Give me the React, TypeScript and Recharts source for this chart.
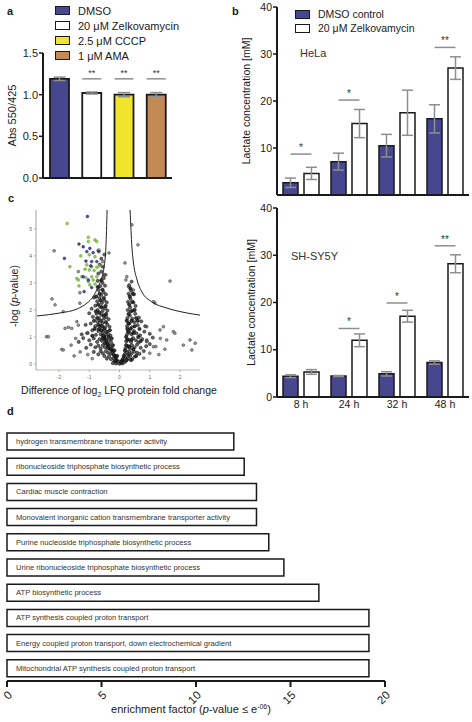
import React from "react";
import {
  BarChart,
  Bar,
  XAxis,
  YAxis,
  ErrorBar,
  Cell,
  LabelList,
  Legend,
  ScatterChart,
  Scatter,
} from "recharts";

const FONT = '"Liberation Sans", Arial, Helvetica, sans-serif';
const NAVY = "#47478f";
const INK = "#1a1a1a";
const GREY_ERR = "#8e8e8e";

// a: Abs 550/425
const treatments = ["DMSO", "20 μM Zelkovamycin", "2.5 μM CCCP", "1 μM AMA"];
const treatmentColors = [NAVY, "#ffffff", "#f0e52b", "#c48a55"];
const absValues = [1.19, 1.02, 1.0, 1.0];
const absErrors = [0.02, 0.012, 0.025, 0.025];
const absSig = ["", "**", "**", "**"];
const absSigLevel = [0, 1.19, 1.19, 1.19];

// b: lactate concentration [mM]
const timepoints = ["8 h", "24 h", "32 h", "48 h"];
const helaDmso = [2.6, 7.1, 10.5, 16.2];
const helaDmsoErr = [1.0, 1.8, 2.4, 3.0];
const helaZelk = [4.6, 15.2, 17.5, 27.0];
const helaZelkErr = [1.3, 3.0, 4.8, 2.4];
const helaSig = ["*", "*", "", "**"];
const helaSigLevel = [8.7, 20.2, 0, 31.4];
const shDmso = [4.4, 4.45, 4.9, 7.3];
const shDmsoErr = [0.3, 0.1, 0.45, 0.35];
const shZelk = [5.3, 12.0, 17.1, 28.2];
const shZelkErr = [0.5, 1.35, 1.25, 1.9];
const shSig = ["", "*", "*", "**"];
const shSigLevel = [0, 14.5, 19.9, 32.0];

// c: volcano plot (log2 fold change, -log p)
const leftCurve: [number, number][] = [
  [-2.73, 1.78], [-1.97, 1.89], [-1.4, 2.04], [-1.07, 2.26], [-0.88, 2.48],
  [-0.71, 2.85], [-0.58, 3.22], [-0.51, 3.59], [-0.45, 4.33], [-0.41, 5.7],
];
const rightCurve: [number, number][] = [
  [0.35, 5.7], [0.41, 4.33], [0.45, 3.85], [0.58, 3.11], [0.74, 2.67],
  [1.07, 2.3], [1.57, 2.07], [2.23, 1.89], [2.66, 1.81],
];
const greenPoints: [number, number][] = [
  [-1.73, 5.2], [-1.03, 4.69], [-0.81, 4.59], [-0.75, 4.53], [-1.03, 4.53],
  [-0.68, 4.22], [-1.28, 4.0], [-1.0, 4.04], [-0.81, 3.97], [-1.64, 3.6],
  [-1.08, 3.67], [-0.92, 3.6], [-0.75, 3.58], [-0.67, 3.63], [-1.14, 3.51],
  [-1.0, 3.48], [-0.84, 3.46], [-1.41, 3.17], [-1.25, 3.23], [-1.11, 3.2],
  [-0.92, 3.23], [-0.75, 3.23], [-1.36, 3.11], [-1.03, 3.05], [-0.87, 3.11],
  [-1.34, 2.89], [-0.98, 2.93], [-0.81, 2.96],
];
const bluePoints: [number, number][] = [
  [-1.06, 5.46], [-1.34, 4.44], [-1.2, 4.34], [-0.98, 4.28], [-1.82, 3.91],
  [-1.08, 4.16], [-0.87, 4.12], [-0.68, 4.16], [-1.11, 3.81], [-0.92, 3.79],
  [-0.75, 3.79], [-0.95, 3.63], [-1.2, 3.23], [-1.03, 3.11], [-0.92, 2.83],
  [-1.17, 2.68],
];
const outlierPoints: [number, number][] = [
  [-2.16, 4.19], [-2.23, 2.41], [0.18, 3.74], [0.41, 5.15], [0.61, 4.41],
  [1.67, 3.07], [-0.35, 4.11], [1.17, 2.26], [-1.36, 3.42], [-1.31, 2.64],
  [-0.55, 3.79], [-0.45, 3.3], [0.24, 3.23], [0.21, 3.11], [0.29, 2.86],
  [0.46, 2.74], [-2.13, 2.19], [-1.86, 1.94], [-1.31, 2.25], [-1.8, 1.32],
  [-1.58, 1.32], [-2.41, 1.01], [-1.91, 0.54], [1.12, 2.31], [1.78, 1.2],
  [1.45, 1.38], [0.9, 1.38], [2.33, 0.89], [2.39, 0.52], [-1.41, 1.57],
  [-2.35, 1.01], [-1.86, 0.52], [-1.69, 1.36], [1.83, 1.14], [2.5, 0.77],
  [2.11, 0.7], [1.56, 0.89], [-1.36, 1.44], [-1.08, 1.14], [1.34, 1.26],
  [1.12, 0.64], [0.9, 0.89], [-1.5, 0.3], [-1.3, 0.45], [-1.6, 0.7],
  [1.3, 0.35], [1.5, 0.55], [1.2, 0.65], [-1.45, 0.95], [1.35, 0.95],
  [-0.9, 0.2], [0.8, 0.22], [-1.05, 0.35], [1.0, 0.4],
];
const cloudPoints: [number, number][] = [
  [-0.12, 0.02], [-0.06, 0.05], [0, 0.01], [0.05, 0.04], [0.1, 0.02],
  [-0.18, 0.08], [0.15, 0.07], [-0.03, 0.1], [0.08, 0.12], [-0.22, 0.03],
  [0.2, 0.1], [-0.28, 0.18], [-0.2, 0.22], [-0.12, 0.25], [-0.35, 0.28],
  [0.12, 0.2], [0.2, 0.26], [0.28, 0.22], [0.35, 0.3], [-0.42, 0.2],
  [0.42, 0.18], [-0.5, 0.3], [0.5, 0.27], [-0.3, 0.38], [-0.38, 0.42],
  [-0.45, 0.48], [-0.22, 0.45], [-0.55, 0.4], [-0.62, 0.47], [0.18, 0.38],
  [0.25, 0.44], [0.32, 0.48], [0.4, 0.4], [0.48, 0.46], [0.58, 0.42],
  [-0.7, 0.36], [0.66, 0.38], [-0.85, 0.45], [0.8, 0.48], [-0.25, 0.6],
  [-0.33, 0.58], [-0.4, 0.66], [-0.48, 0.62], [-0.55, 0.7], [-0.62, 0.58],
  [-0.7, 0.68], [0.2, 0.58], [0.27, 0.66], [0.34, 0.6], [0.41, 0.7],
  [0.5, 0.62], [0.58, 0.72], [-0.8, 0.62], [0.7, 0.6], [-0.95, 0.72],
  [0.88, 0.66], [-1.1, 0.6], [1.0, 0.74], [-0.28, 0.82], [-0.36, 0.88],
  [-0.44, 0.8], [-0.5, 0.94], [-0.58, 0.86], [-0.66, 0.92], [-0.74, 0.82],
  [0.22, 0.84], [0.3, 0.9], [0.38, 0.82], [0.45, 0.96], [0.54, 0.88],
  [0.63, 0.8], [-0.85, 0.95], [0.75, 0.92], [-1.0, 0.88], [0.9, 0.84],
  [-1.2, 0.96], [1.1, 0.98], [-1.35, 0.82], [-0.3, 1.06], [-0.38, 1.12],
  [-0.46, 1.08], [-0.54, 1.18], [-0.62, 1.1], [-0.7, 1.22], [-0.78, 1.08],
  [0.24, 1.08], [0.32, 1.16], [0.4, 1.1], [0.48, 1.22], [0.56, 1.14],
  [-0.9, 1.25], [0.68, 1.06], [-1.05, 1.15], [0.82, 1.2], [-1.25, 1.1],
  [1.0, 1.12], [-0.33, 1.38], [-0.4, 1.46], [-0.48, 1.36], [-0.56, 1.52],
  [-0.64, 1.42], [-0.72, 1.56], [-0.8, 1.4], [0.25, 1.4], [0.33, 1.5],
  [0.41, 1.36], [0.49, 1.55], [0.6, 1.44], [-0.95, 1.5], [0.72, 1.58],
  [-1.12, 1.45], [0.85, 1.4], [-0.36, 1.66], [-0.44, 1.74], [-0.52, 1.68],
  [-0.6, 1.82], [-0.68, 1.7], [-0.76, 1.86], [0.26, 1.7], [0.34, 1.8],
  [0.42, 1.68], [0.52, 1.86], [-0.88, 1.75], [0.64, 1.72], [-1.0, 1.88],
  [-0.4, 1.98], [-0.48, 2.06], [-0.56, 1.96], [-0.64, 2.12], [-0.72, 2.0],
  [-0.8, 2.16], [0.27, 2.0], [0.35, 2.1], [0.44, 1.98], [0.53, 2.15],
  [-0.92, 2.05], [-0.42, 2.28], [-0.5, 2.36], [-0.58, 2.26], [-0.66, 2.44],
  [-0.74, 2.32], [0.28, 2.3], [0.36, 2.42], [0.46, 2.28], [-0.84, 2.46],
  [-0.45, 2.58], [-0.53, 2.66], [-0.61, 2.56], [-0.69, 2.74], [0.3, 2.6],
  [0.38, 2.72], [0.48, 2.58], [-0.48, 2.9], [-0.56, 3.0], [-0.64, 2.88],
  [-0.72, 3.08], [0.32, 2.92], [0.4, 3.05], [-0.52, 3.18], [-0.5, 3.3],
  [-0.6, 3.42], [-0.7, 3.35], [-0.55, 3.6], [-0.65, 3.68], [-0.6, 3.9],
  [-0.5, 4.05], [-0.7, 4.2],
];
const corePoints: [number, number][] = [
  [-0.1, 0.15], [-0.15, 0.3], [-0.2, 0.35], [-0.25, 0.5], [-0.3, 0.55],
  [-0.35, 0.7], [-0.4, 0.75], [-0.45, 0.9], [-0.5, 1.0], [-0.55, 1.05],
  [-0.6, 1.25], [-0.42, 1.2], [-0.36, 1.0], [-0.5, 1.3], [-0.58, 1.4],
  [-0.62, 1.6], [-0.45, 1.55], [-0.52, 1.8], [-0.66, 1.9], [-0.58, 2.1],
  [-0.46, 2.15], [-0.52, 2.45], [-0.62, 2.35], [-0.56, 2.75], [-0.66, 2.6],
  [-0.6, 3.1], [-0.44, 1.85], [-0.32, 1.25], [-0.26, 0.95], [-0.22, 0.7],
  [-0.17, 0.5], [-0.08, 0.3], [-0.14, 0.12], [-0.38, 0.6], [-0.48, 0.78],
  [-0.55, 0.95], [-0.68, 1.3], [-0.7, 1.45], [-0.74, 1.7], [-0.7, 2.2],
  [-0.77, 2.5], [-0.72, 2.85], [-0.78, 1.95], [-0.84, 1.6], [-0.82, 1.3],
  [-0.9, 1.05], [0.1, 0.15], [0.14, 0.3], [0.18, 0.5], [0.22, 0.7],
  [0.26, 0.9], [0.28, 1.2], [0.3, 1.5], [0.3, 1.85], [0.32, 2.2],
  [0.34, 2.5], [0.36, 2.8], [0.22, 1.0], [0.26, 1.3], [0.24, 1.6],
  [0.36, 1.3], [0.4, 1.6], [0.38, 1.95], [0.42, 2.3], [0.44, 2.6],
  [0.32, 0.65], [0.4, 0.9], [0.46, 1.15], [0.5, 1.4], [0.55, 1.7],
  [0.5, 2.0], [0.3, 0.35], [0.06, 0.08], [0.24, 0.15], [0.45, 0.55],
  [0.62, 1.0], [0.66, 1.3], [0.6, 1.6], [0.7, 0.85], [0.55, 0.3],
  [0.38, 0.15],
];

// d: GO enrichment
const goTerms = [
  "hydrogen transmembrane transporter activity",
  "ribonucleoside triphosphate biosynthetic process",
  "Cardiac muscle contraction",
  "Monovalent inorganic cation transmembrane transporter activity",
  "Purine nucleoside triphosphate biosynthetic process",
  "Urine ribonucleoside triphosphate biosynthetic process",
  "ATP biosynthetic process",
  "ATP synthesis coupled proton transport",
  "Energy coupled proton transport, down electrochemical gradient",
  "Mitochondrial ATP synthesis coupled proton transport",
];
const enrichment = [12.0, 12.55, 13.2, 13.2, 13.85, 14.65, 16.5, 19.15, 19.15, 19.15];

const absData = treatments.map((name, i) => ({
  name, value: absValues[i], err: absErrors[i], sig: absSig[i],
}));
const lactateRows = (d: number[], de: number[], z: number[], ze: number[], s: string[]) =>
  timepoints.map((t, i) => ({ t, dmso: d[i], dmsoErr: de[i], zelk: z[i], zelkErr: ze[i], sig: s[i] }));
const helaData = lactateRows(helaDmso, helaDmsoErr, helaZelk, helaZelkErr, helaSig);
const shData = lactateRows(shDmso, shDmsoErr, shZelk, shZelkErr, shSig);
const goData = goTerms.map((term, i) => ({ term, value: enrichment[i] }));
const toXY = (pts: [number, number][]) => pts.map(([x, y]) => ({ x, y }));

// significance bar drawn from the bar's own geometry
const sigMark =
  (values: number[], levels: number[], marks: string[], span: "bar" | "pair", gap = 0, size = 9) =>
  (props: any) => {
    const vb = props.viewBox || props;
    const i = props.index;
    if (i == null || !marks[i]) return null;
    const top = Math.min(vb.y, vb.y + vb.height);
    const h = Math.abs(vb.height);
    const base = top + h;
    const ly = base - (levels[i] * h) / values[i];
    const x1 = span === "bar" ? vb.x : vb.x + vb.width / 2 - vb.width - gap;
    const x2 = span === "bar" ? vb.x + vb.width : vb.x + vb.width / 2;
    return (
      <g>
        <line x1={x1} x2={x2} y1={ly} y2={ly} stroke={GREY_ERR} strokeWidth={1.5} />
        <text
          x={(x1 + x2) / 2}
          y={ly - 3}
          textAnchor="middle"
          fontSize={size}
          fontFamily={FONT}
          style={{ fill: "#333", stroke: "none" }}
        >
          {marks[i]}
        </text>
      </g>
    );
  };

const vLabel = (content: React.ReactNode, x: number, dy = 0, size = 11) => (props: any) => {
  const vb = props.viewBox;
  const cy = vb.y + vb.height / 2 + dy;
  return (
    <text
      x={x}
      y={cy}
      transform={`rotate(-90, ${x}, ${cy})`}
      textAnchor="middle"
      dominantBaseline="central"
      fontSize={size}
      fill={INK}
      fontFamily={FONT}
    >
      {content}
    </text>
  );
};

function SwatchLegend({ names, colors, row, size }: { names: string[]; colors: string[]; row: number; size: number }) {
  return (
    <div style={{ fontFamily: FONT, fontSize: size, color: INK }}>
      {names.map((n, i) => (
        <div key={n} style={{ display: "flex", alignItems: "center", height: row, whiteSpace: "nowrap" }}>
          <span
            style={{
              display: "inline-block",
              width: 15,
              height: 9,
              boxSizing: "border-box",
              background: colors[i],
              border: `1.5px solid ${INK}`,
              marginRight: 8,
            }}
          />
          {n}
        </div>
      ))}
    </div>
  );
}

const axisStroke = { stroke: INK, strokeWidth: 2 };
const tickFont = { fontSize: 11, fill: INK, fontFamily: FONT };

function PanelA() {
  return (
    <BarChart width={180} height={200} data={absData} margin={{ top: 53, right: 8, bottom: 21, left: 23 }} barSize={19}>
      <XAxis dataKey="name" tick={false} tickLine={false} axisLine={axisStroke} height={1} />
      <YAxis
        domain={[0, 1.5]}
        ticks={[0, 0.5, 1, 1.5]}
        tickFormatter={(v: number) => v.toFixed(1)}
        width={20}
        axisLine={axisStroke}
        tickLine={{ stroke: INK, strokeWidth: 1.5 }}
        tickSize={4}
        tickMargin={1}
        tick={tickFont}
        label={{ content: vLabel("Abs 550/425", 12, 0, 11) }}
      />
      <Legend
        layout="vertical"
        align="center"
        verticalAlign="middle"
        wrapperStyle={{ top: 3, left: 55, width: "auto" }}
        content={() => <SwatchLegend names={treatments} colors={treatmentColors} row={15} size={11} />}
      />
      <Bar dataKey="value" stroke={INK} strokeWidth={1.8} isAnimationActive={false}>
        {absData.map((d, i) => (
          <Cell key={d.name} fill={treatmentColors[i]} />
        ))}
        <ErrorBar dataKey="err" width={6} stroke={GREY_ERR} strokeWidth={1.5} />
        <LabelList dataKey="sig" content={sigMark(absValues, absSigLevel, absSig, "bar", 0, 9)} />
      </Bar>
    </BarChart>
  );
}

function LactateChart({
  data, zelk, levels, marks, height, top, bottomAxis, title, titleX, titleY, labelX, legend,
}: {
  data: any[]; zelk: number[]; levels: number[]; marks: string[]; height: number; top: number;
  bottomAxis: number; title: string; titleX: number; titleY: number; labelX: number; legend?: boolean;
}) {
  return (
    <BarChart
      width={232}
      height={height}
      data={data}
      margin={{ top, right: 3, bottom: bottomAxis ? 0 : 4, left: 15 }}
      barSize={15}
      barGap={6}
    >
      <XAxis
        dataKey="t"
        tick={bottomAxis ? { fontSize: 10.5, fill: INK, fontFamily: FONT } : false}
        tickLine={false}
        tickSize={3}
        tickMargin={1}
        axisLine={axisStroke}
        height={bottomAxis || 1}
      />
      <YAxis
        domain={[0, 40]}
        ticks={[0, 10, 20, 30, 40]}
        width={22}
        axisLine={axisStroke}
        tickLine={{ stroke: INK, strokeWidth: 1.5 }}
        tickSize={4}
        tickMargin={1}
        tick={{ fontSize: 10.5, fill: INK, fontFamily: FONT }}
        label={{ content: vLabel("Lactate concentration [mM]", labelX, 0, 10.5) }}
      />
      {legend && (
        <Legend
          layout="vertical"
          align="center"
          verticalAlign="middle"
          wrapperStyle={{ top: 7, left: 55, width: "auto" }}
          content={() => (
            <SwatchLegend names={["DMSO control", "20 μM Zelkovamycin"]} colors={[NAVY, "#ffffff"]} row={14} size={10.5} />
          )}
        />
      )}
      <Bar dataKey="dmso" fill={NAVY} stroke={INK} strokeWidth={1.5} isAnimationActive={false}>
        <ErrorBar dataKey="dmsoErr" width={5.5} stroke={GREY_ERR} strokeWidth={1.5} />
      </Bar>
      <Bar dataKey="zelk" fill="#ffffff" stroke={INK} strokeWidth={1.5} isAnimationActive={false}>
        <ErrorBar dataKey="zelkErr" width={5.5} stroke={GREY_ERR} strokeWidth={1.5} />
        <LabelList dataKey="sig" content={sigMark(zelk, levels, marks, "pair", 6, 10)} />
      </Bar>
      <text x={titleX} y={titleY} fontSize={11} fill="#333" fontFamily={FONT} dominantBaseline="central">
        {title}
      </text>
    </BarChart>
  );
}

const dot = (fill: string, stroke: string, r: number, op = 0.85) => (p: any) =>
  <circle cx={p.cx} cy={p.cy} r={r} fill={fill} stroke={stroke} strokeWidth={0.5} fillOpacity={op} />;

function PanelC() {
  const small = { fontSize: 5, fill: "#666", fontFamily: FONT };
  return (
    <ScatterChart width={240} height={215} margin={{ top: 20, right: 40, bottom: 0, left: 24 }}>
      <XAxis
        type="number"
        dataKey="x"
        domain={[-2.76, 2.66]}
        ticks={[-2, -1, 0, 1, 2]}
        allowDataOverflow
        height={35}
        tick={small}
        tickSize={2}
        tickMargin={3}
        axisLine={{ stroke: "#aaa", strokeWidth: 0.8 }}
        tickLine={{ stroke: "#aaa" }}
        label={{
          content: (p: any) => (
            <text x={119} y={p.viewBox.y + 24} textAnchor="middle" fontSize={10.5} fill={INK} fontFamily={FONT}>
              Difference of log
              <tspan dy={3} fontSize={7}>2</tspan>
              <tspan dy={-3}> LFQ protein fold change</tspan>
            </text>
          ),
        }}
      />
      <YAxis
        type="number"
        dataKey="y"
        domain={[-0.22, 5.7]}
        ticks={[0, 1, 2, 3, 4, 5]}
        allowDataOverflow
        width={12}
        tick={small}
        tickSize={2}
        tickMargin={2}
        axisLine={{ stroke: "#888", strokeWidth: 0.8 }}
        tickLine={{ stroke: "#aaa" }}
        label={{
          content: vLabel(
            <>
              -log (<tspan fontStyle="italic">p</tspan>-value)
            </>,
            14,
            6,
            10.5
          ),
        }}
      />
      <Scatter data={toXY(outlierPoints)} shape={dot("#8a8a8a", "#333", 1.4)} isAnimationActive={false} />
      <Scatter data={toXY(cloudPoints)} shape={dot("#555", "#111", 1.6, 0.9)} isAnimationActive={false} />
      <Scatter data={toXY(corePoints)} shape={dot("#222", "#000", 1.7, 0.9)} isAnimationActive={false} />
      <Scatter data={toXY(greenPoints)} shape={dot("#86c540", "#5f9a2a", 1.4)} isAnimationActive={false} />
      <Scatter data={toXY(bluePoints)} shape={dot("#34348f", "#1e1e66", 1.4)} isAnimationActive={false} />
      <Scatter
        data={toXY(leftCurve)}
        line={{ stroke: "#222", strokeWidth: 1 }}
        lineJointType="monotoneX"
        shape={() => <g />}
        isAnimationActive={false}
      />
      <Scatter
        data={toXY(rightCurve)}
        line={{ stroke: "#222", strokeWidth: 1 }}
        lineJointType="monotoneX"
        shape={() => <g />}
        isAnimationActive={false}
      />
    </ScatterChart>
  );
}

const RotTick = (p: any) => (
  <text
    x={p.x + 3}
    y={p.y + 4}
    transform={`rotate(-45, ${p.x + 3}, ${p.y + 4})`}
    textAnchor="end"
    dominantBaseline="central"
    fontSize={11.5}
    fill={INK}
    fontFamily={FONT}
  >
    {p.payload.value}
  </text>
);

const termLabel = (props: any) => {
  const vb = props.viewBox || props;
  const top = Math.min(vb.y, vb.y + vb.height);
  return (
    <text
      x={vb.x + 9}
      y={top + Math.abs(vb.height) / 2}
      dominantBaseline="central"
      fontSize={7.6}
      fontFamily={FONT}
      style={{ fill: "#333", stroke: "none" }}
    >
      {props.value}
    </text>
  );
};

function PanelD() {
  return (
    <BarChart
      layout="vertical"
      width={472}
      height={297}
      data={goData}
      margin={{ top: 4, right: 87, bottom: 0, left: 7 }}
      barSize={17}
    >
      <YAxis type="category" dataKey="term" hide />
      <XAxis
        type="number"
        domain={[0, 20]}
        ticks={[0, 5, 10, 15, 20]}
        height={41}
        axisLine={axisStroke}
        tickLine={{ stroke: INK, strokeWidth: 2 }}
        tickSize={6}
        tick={<RotTick />}
        label={{
          content: (p: any) => (
            <text x={191} y={p.viewBox.y + 32} textAnchor="middle" fontSize={11} fill={INK} fontFamily={FONT}>
              enrichment factor (<tspan fontStyle="italic">p</tspan>-value ≤ e
              <tspan dy={-4} fontSize={7}>-06</tspan>
              <tspan dy={4}>)</tspan>
            </text>
          ),
        }}
      />
      <Bar dataKey="value" fill="#ffffff" stroke={INK} strokeWidth={1.5} isAnimationActive={false}>
        <LabelList dataKey="term" content={termLabel} />
      </Bar>
    </BarChart>
  );
}

const letter = (ch: string, left: number, top: number) => (
  <div style={{ position: "absolute", left, top, fontWeight: "bold", fontSize: 11, fontFamily: FONT, color: INK }}>
    {ch}
  </div>
);

export default function App() {
  return (
    <div style={{ position: "absolute", left: 0, top: 0, width: 472, height: 722, background: "#fff", fontFamily: FONT }}>
      <div style={{ position: "absolute", left: 0, top: 0 }}>
        <PanelA />
      </div>
      <div style={{ position: "absolute", left: 240, top: 0 }}>
        <LactateChart
          data={helaData}
          zelk={helaZelk}
          levels={helaSigLevel}
          marks={helaSig}
          height={200}
          top={7}
          bottomAxis={0}
          title="HeLa"
          titleX={60}
          titleY={53}
          labelX={6}
          legend
        />
      </div>
      <div style={{ position: "absolute", left: 240, top: 200 }}>
        <LactateChart
          data={shData}
          zelk={shZelk}
          levels={shSigLevel}
          marks={shSig}
          height={215}
          top={8}
          bottomAxis={18}
          title="SH-SY5Y"
          titleX={51}
          titleY={56}
          labelX={11}
        />
      </div>
      <div style={{ position: "absolute", left: 0, top: 190 }}>
        <PanelC />
      </div>
      <div style={{ position: "absolute", left: 0, top: 425 }}>
        <PanelD />
      </div>
      {letter("a", 7, 5)}
      {letter("b", 232, 5)}
      {letter("c", 8, 192)}
      {letter("d", 7, 405)}
    </div>
  );
}
